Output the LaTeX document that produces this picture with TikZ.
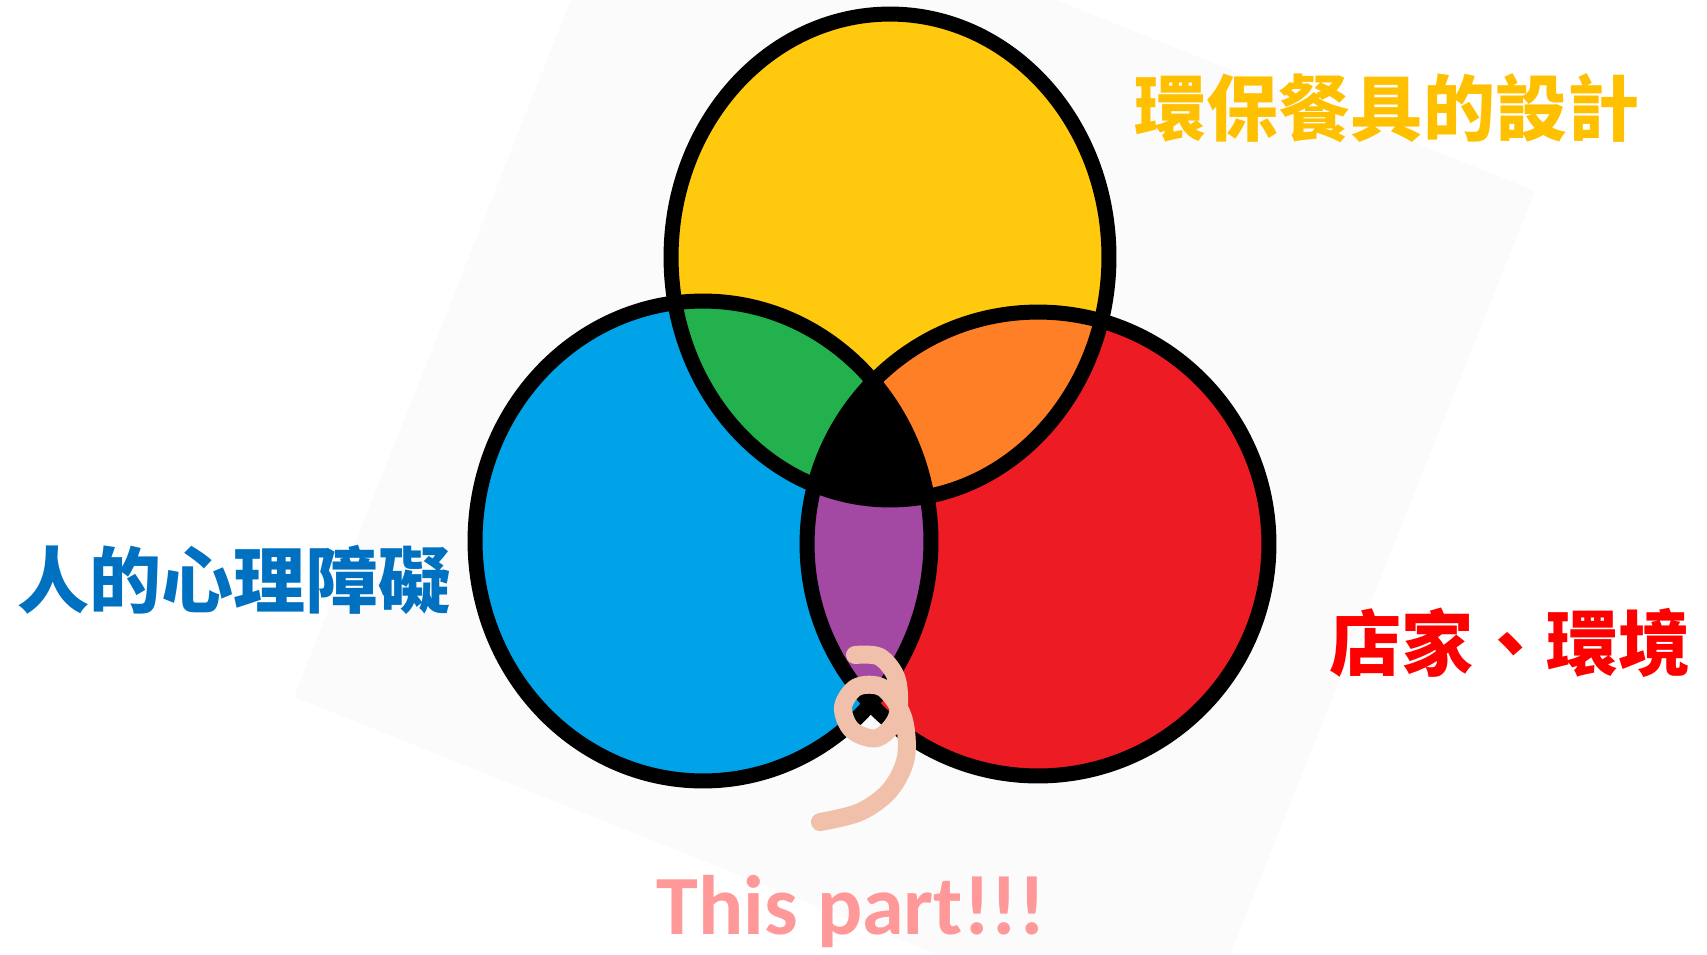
\documentclass[tikz,border=0pt]{standalone}
\usepackage{fontspec}
\usepackage{xcolor}
\newfontfamily\cjk{Noto Sans CJK TC}
\newfontfamily\calib{Carlito}
\usetikzlibrary{shapes}

\definecolor{yellowc}{HTML}{FFC90E}
\definecolor{bluec}{HTML}{00A2E8}
\definecolor{redc}{HTML}{ED1C24}
\definecolor{greenc}{HTML}{22B14C}
\definecolor{orangec}{HTML}{FF7F27}
\definecolor{purplec}{HTML}{A349A4}
\definecolor{goldtxt}{HTML}{FFC000}
\definecolor{bluetxt}{HTML}{0070C0}
\definecolor{redtxt}{HTML}{FF0000}
\definecolor{pinktxt}{HTML}{FF9999}
\definecolor{curlc}{HTML}{F0C0AA}
\definecolor{paper}{HTML}{FBFBFB}

\def\yellowset{(890,257) ellipse [x radius=4.38cm, y radius=4.86cm]}
\def\blueset{(703,541) ellipse [x radius=4.56cm, y radius=4.80cm]}
\def\redset{(1038,544) ellipse [x radius=4.62cm, y radius=4.64cm]}

\tikzset{
  ring/.style={draw=black, line width=0.3cm},
  cjklabel/.style={font=\cjk\bfseries\fontsize{41}{48}\selectfont, inner sep=0pt},
  curl/.style={draw=curlc, line width=0.36cm, line cap=round, line join=round}
}

\begin{document}
\begin{tikzpicture}[x=0.02cm, y=-0.02cm]
\useasboundingbox (0,0) rectangle (1707,954);
\fill[white] (0,0) rectangle (1707,954);
\fill[paper] (571,0) -- (294,697) -- (936,954) -- (1230,954) -- (1535,191) -- (1056,0) -- cycle;

% the three sets
\fill[yellowc] \yellowset;
\fill[bluec] \blueset;
\fill[redc] \redset;
\begin{scope}
\clip \yellowset;
\fill[greenc] \blueset;
\fill[orangec] \redset;
\end{scope}
\begin{scope}
\clip \blueset;
\fill[purplec] \redset;
\end{scope}
\begin{scope}
\clip \yellowset;
\clip \blueset;
\fill[black] \redset;
\end{scope}
\draw[ring] \yellowset;
\draw[ring] \blueset;
\draw[ring] \redset;

% labels
\node[cjklabel, text=goldtxt] (design) at (1387,108) {環保餐具的設計};
\node[cjklabel, text=bluetxt] (mind) at (234,580) {人的心理障礙};
\node[cjklabel, text=redtxt] (shop) at (1510,643) {店家、環境};
\node[font=\calib\bfseries\fontsize{48}{56}\selectfont, text=pinktxt, anchor=base, inner sep=0pt] (part) at (851,934) {This part!!!};

% the curl
\draw[curl] plot[smooth, tension=0.55] coordinates {(855,655) (880,657) (897,680) (897,717) (877,738) (852,730) (843,707) (857,687) (883,688) (903,717) (906,757) (890,790) (860,812) (820,822)};
\end{tikzpicture}
\end{document}
